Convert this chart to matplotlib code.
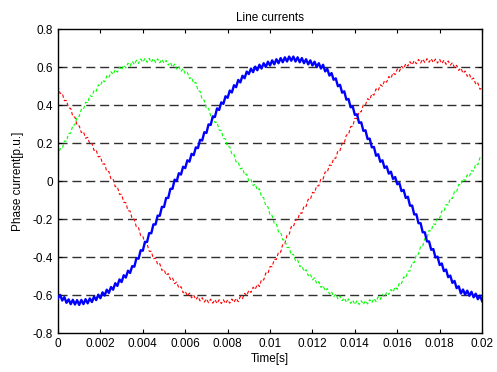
import numpy as np
import matplotlib
matplotlib.use("Agg")
from matplotlib import pyplot as plt

plt.rcParams['font.family'] = ['Liberation Sans', 'DejaVu Sans']

# sample times: 0 .. 0.02 s, step 0.1 ms
time = np.linspace(0, 0.02, 201)

# phase currents (with switching ripple)
ia = [-0.617, -0.599, -0.629, -0.611, -0.641, -0.623, -0.648, -0.625, -0.650, -0.627,
      -0.652, -0.626, -0.648, -0.622, -0.644, -0.618, -0.637, -0.608, -0.627, -0.598,
      -0.617, -0.586, -0.603, -0.572, -0.589, -0.558, -0.572, -0.538, -0.552, -0.518,
      -0.532, -0.496, -0.508, -0.472, -0.484, -0.448, -0.451, -0.406, -0.409, -0.364,
      -0.367, -0.320, -0.321, -0.274, -0.275, -0.228, -0.229, -0.182, -0.183, -0.136,
      -0.137, -0.089, -0.089, -0.041, -0.041, 0.007, 0.000, 0.041, 0.034, 0.075,
      0.068, 0.109, 0.102, 0.143, 0.136, 0.177, 0.173, 0.217, 0.213, 0.257,
      0.253, 0.298, 0.295, 0.340, 0.337, 0.382, 0.374, 0.414, 0.406, 0.446,
      0.438, 0.476, 0.466, 0.504, 0.494, 0.532, 0.519, 0.554, 0.541, 0.576,
      0.563, 0.592, 0.573, 0.602, 0.583, 0.612, 0.592, 0.620, 0.600, 0.628,
      0.608, 0.635, 0.614, 0.641, 0.620, 0.647, 0.625, 0.651, 0.629, 0.655,
      0.633, 0.655, 0.629, 0.651, 0.625, 0.647, 0.620, 0.641, 0.614, 0.635,
      0.608, 0.628, 0.600, 0.620, 0.592, 0.612, 0.577, 0.590, 0.555, 0.568,
      0.533, 0.540, 0.499, 0.506, 0.465, 0.472, 0.428, 0.432, 0.388, 0.392,
      0.348, 0.351, 0.306, 0.309, 0.264, 0.267, 0.221, 0.223, 0.177, 0.179,
      0.133, 0.141, 0.101, 0.109, 0.069, 0.077, 0.039, 0.049, 0.011, 0.021,
      -0.017, -0.011, -0.053, -0.047, -0.089, -0.083, -0.130, -0.129, -0.176, -0.175,
      -0.222, -0.222, -0.270, -0.270, -0.318, -0.318, -0.362, -0.358, -0.402, -0.398,
      -0.442, -0.434, -0.474, -0.466, -0.506, -0.498, -0.536, -0.526, -0.564, -0.554,
      -0.592, -0.571, -0.598, -0.577, -0.604, -0.583, -0.612, -0.593, -0.622, -0.603,
      -0.632]

ib = [0.500, 0.461, 0.462, 0.423, 0.424, 0.385, 0.382, 0.339, 0.336, 0.293,
      0.290, 0.255, 0.260, 0.225, 0.230, 0.195, 0.198, 0.161, 0.164, 0.127,
      0.130, 0.090, 0.090, 0.050, 0.050, 0.010, 0.010, -0.030, -0.030, -0.070,
      -0.070, -0.112, -0.114, -0.156, -0.158, -0.200, -0.202, -0.244, -0.246, -0.288,
      -0.290, -0.330, -0.330, -0.370, -0.370, -0.410, -0.405, -0.440, -0.435, -0.470,
      -0.465, -0.496, -0.487, -0.518, -0.509, -0.540, -0.532, -0.564, -0.556, -0.588,
      -0.580, -0.605, -0.590, -0.615, -0.600, -0.625, -0.608, -0.631, -0.614, -0.637,
      -0.620, -0.641, -0.622, -0.643, -0.624, -0.645, -0.625, -0.645, -0.625, -0.645,
      -0.625, -0.643, -0.621, -0.639, -0.617, -0.635, -0.607, -0.619, -0.591, -0.603,
      -0.575, -0.587, -0.559, -0.571, -0.543, -0.555, -0.518, -0.521, -0.484, -0.487,
      -0.450, -0.451, -0.412, -0.413, -0.374, -0.375, -0.332, -0.329, -0.286, -0.283,
      -0.240, -0.242, -0.204, -0.206, -0.168, -0.170, -0.132, -0.134, -0.096, -0.098,
      -0.060, -0.062, -0.024, -0.026, 0.012, 0.010, 0.048, 0.046, 0.084, 0.082,
      0.120, 0.120, 0.160, 0.160, 0.200, 0.200, 0.242, 0.244, 0.286, 0.288,
      0.330, 0.328, 0.366, 0.364, 0.402, 0.400, 0.433, 0.426, 0.459, 0.452,
      0.485, 0.476, 0.507, 0.498, 0.529, 0.520, 0.550, 0.540, 0.570, 0.560,
      0.590, 0.577, 0.604, 0.591, 0.618, 0.605, 0.628, 0.611, 0.634, 0.617,
      0.640, 0.621, 0.642, 0.623, 0.644, 0.625, 0.644, 0.623, 0.642, 0.621,
      0.640, 0.618, 0.636, 0.614, 0.632, 0.610, 0.623, 0.596, 0.609, 0.582,
      0.595, 0.567, 0.579, 0.551, 0.563, 0.535, 0.542, 0.509, 0.516, 0.483,
      0.490]

ic = [0.130, 0.170, 0.170, 0.210, 0.210, 0.250, 0.252, 0.294, 0.296, 0.338,
      0.340, 0.378, 0.376, 0.414, 0.412, 0.450, 0.444, 0.478, 0.472, 0.506,
      0.500, 0.531, 0.522, 0.553, 0.544, 0.575, 0.561, 0.587, 0.573, 0.599,
      0.585, 0.610, 0.595, 0.620, 0.605, 0.630, 0.613, 0.636, 0.619, 0.642,
      0.625, 0.645, 0.625, 0.645, 0.625, 0.645, 0.624, 0.643, 0.622, 0.641,
      0.620, 0.635, 0.610, 0.625, 0.600, 0.615, 0.589, 0.603, 0.577, 0.591,
      0.565, 0.572, 0.539, 0.546, 0.513, 0.520, 0.476, 0.472, 0.428, 0.424,
      0.380, 0.382, 0.344, 0.346, 0.308, 0.310, 0.268, 0.266, 0.224, 0.222,
      0.180, 0.180, 0.140, 0.140, 0.100, 0.100, 0.064, 0.068, 0.032, 0.036,
      0.000, 0.008, -0.024, -0.016, -0.048, -0.040, -0.084, -0.088, -0.132, -0.136,
      -0.180, -0.182, -0.224, -0.226, -0.268, -0.270, -0.310, -0.310, -0.350, -0.350,
      -0.390, -0.385, -0.420, -0.415, -0.450, -0.445, -0.476, -0.467, -0.498, -0.489,
      -0.520, -0.510, -0.540, -0.530, -0.560, -0.550, -0.578, -0.566, -0.594, -0.582,
      -0.610, -0.595, -0.620, -0.605, -0.630, -0.615, -0.638, -0.621, -0.644, -0.627,
      -0.650, -0.630, -0.650, -0.630, -0.650, -0.630, -0.647, -0.624, -0.641, -0.618,
      -0.635, -0.609, -0.623, -0.597, -0.611, -0.585, -0.598, -0.571, -0.584, -0.557,
      -0.570, -0.535, -0.540, -0.505, -0.510, -0.475, -0.473, -0.431, -0.429, -0.387,
      -0.385, -0.344, -0.343, -0.302, -0.301, -0.260, -0.263, -0.226, -0.229, -0.192,
      -0.195, -0.158, -0.161, -0.124, -0.127, -0.090, -0.092, -0.054, -0.056, -0.018,
      -0.020, 0.011, 0.002, 0.033, 0.024, 0.055, 0.052, 0.089, 0.086, 0.123,
      0.120]

grid_levels = [-0.6, -0.4, -0.2, 0, 0.2, 0.4, 0.6]
xticks = [0, 0.002, 0.004, 0.006, 0.008, 0.01, 0.012, 0.014, 0.016, 0.018, 0.02]
xticklabels = ["0", "0.002", "0.004", "0.006", "0.008", "0.01", "0.012", "0.014", "0.016", "0.018", "0.02"]
yticks = [-0.8, -0.6, -0.4, -0.2, 0, 0.2, 0.4, 0.6, 0.8]
yticklabels = ["-0.8", "-0.6", "-0.4", "-0.2", "0", "0.2", "0.4", "0.6", "0.8"]

fig = plt.figure(figsize=(4.97, 3.72), dpi=100)
ax = fig.add_axes([0.1167, 0.1048, 0.8533, 0.8172])

# dashed reference lines
for g in grid_levels:
    ax.axhline(g, color="#303030", lw=1.0, dashes=(6.5, 3.5), zorder=1)

ax.plot(time, ib, color="red", lw=0.8, dashes=(3, 2), zorder=2)
ax.plot(time, ic, color="#00ff00", lw=0.8, dashes=(3, 2), zorder=2)
ax.plot(time, ia, color="blue", lw=1.7, zorder=3)

ax.set_xlim(0, 0.02)
ax.set_ylim(-0.8, 0.8)
ax.set_xticks(xticks)
ax.set_xticklabels(xticklabels)
ax.set_yticks(yticks)
ax.set_yticklabels(yticklabels)
ax.tick_params(direction="in", length=3, width=0.8, top=True, right=True, labelsize=8.5, pad=3.5)
for s in ax.spines.values():
    s.set_linewidth(1.0)

ax.set_title("Line currents", fontsize=8.5, pad=6)
ax.set_xlabel("Time[s]", fontsize=8.5, labelpad=2)
ax.set_ylabel("Phase current[p.u.]", fontsize=8.5, labelpad=6)

fig.savefig("out.png", dpi=100)
